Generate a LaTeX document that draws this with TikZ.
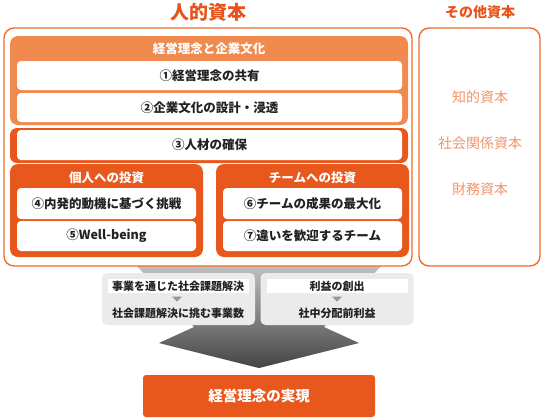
\documentclass[tikz,border=0pt]{standalone}
\usepackage{fontspec}
\setmainfont{Noto Sans CJK JP}
\definecolor{lorange}{HTML}{F08A4E}
\definecolor{dorange}{HTML}{E8571C}
\definecolor{frameor}{HTML}{EF6C28}
\definecolor{titleor}{HTML}{E8531A}
\definecolor{softor}{HTML}{F2946A}
\definecolor{gbox}{HTML}{EBEBEB}
\definecolor{txt}{HTML}{222222}
\definecolor{ftop}{HTML}{C4C4C4}
\definecolor{fbot}{HTML}{444444}
\begin{document}
\begin{tikzpicture}[x=1pt,y=-1pt,
  frame/.style={draw=frameor, line width=1.4pt, rounded corners=10pt, fill=white, inner sep=0pt},
  group/.style={rounded corners=8pt, inner sep=0pt},
  item/.style={fill=white, rounded corners=4pt, inner sep=0pt, font=\bfseries\fontsize{12.5}{14}\selectfont, text=txt},
  head/.style={font=\bfseries\fontsize{12.5}{14}\selectfont, text=white, inner sep=0pt},
  other/.style={font=\fontsize{14}{16}\selectfont, text=softor, inner sep=0pt},
  gbx/.style={fill=gbox, rounded corners=5pt, inner sep=0pt, minimum width=153pt, minimum height=52pt},
  band/.style={fill=white, inner sep=0pt, minimum height=14pt, font=\bfseries\fontsize{11}{12}\selectfont, text=txt},
  gtxt/.style={inner sep=0pt, font=\bfseries\fontsize{11}{12}\selectfont, text=txt},
  tri/.style={fill=black!40}
]
\fill[white] (0,0) rectangle (544,418);
\useasboundingbox (0,0) rectangle (544,418);

% funnel arrow
\shade[top color=ftop, bottom color=fbot]
  (133,262) -- (194,327) -- (159,343) -- (259,368) -- (359,343) -- (324,327) -- (385,262) -- cycle;

% titles
\node[inner sep=0pt, text=titleor, font=\bfseries\fontsize{19}{21}\selectfont] (t1) at (208,12) {人的資本};
\node[inner sep=0pt, text=titleor, font=\bfseries\fontsize{14}{16}\selectfont] (t2) at (480,12.5) {その他資本};

% frames
\node[frame, minimum width=408pt, minimum height=238pt] (human) at (208,147) {};
\node[frame, minimum width=121pt, minimum height=238pt] (others) at (479.5,147) {};

% box A
\node[group, fill=lorange, minimum width=398pt, minimum height=89pt] (boxA) at (209,80.5) {};
\node[head] (headA) at (209,49) {経営理念と企業文化};
\node[item, minimum width=385pt, minimum height=29pt] (i1) at (209.5,75.5) {①経営理念の共有};
\node[item, minimum width=385pt, minimum height=29pt] (i2) at (209.5,107.5) {②企業文化の設計・浸透};

% box 3
\node[group, rounded corners=7pt, fill=dorange, minimum width=398pt, minimum height=35pt] (box3) at (209,145.5) {};
\node[item, minimum width=385pt, minimum height=30pt] (i3) at (209.5,145) {③人材の確保};

% box P
\node[group, fill=dorange, minimum width=193pt, minimum height=93pt] (boxP) at (106.5,210.5) {};
\node[head] (headP) at (106.5,178) {個人への投資};
\node[item, minimum width=179pt, minimum height=31pt] (i4) at (106.5,203.5) {④内発的動機に基づく挑戦};
\node[item, minimum width=179pt, minimum height=30pt] (i5) at (106.5,236) {⑤Well-being};

% box T
\node[group, fill=dorange, minimum width=193pt, minimum height=93pt] (boxT) at (312.5,210.5) {};
\node[head] (headT) at (312.5,178) {チームへの投資};
\node[item, minimum width=179pt, minimum height=31pt] (i6) at (312.5,203.5) {⑥チームの成果の最大化};
\node[item, minimum width=179pt, minimum height=30pt] (i7) at (312.5,236) {⑦違いを歓迎するチーム};

% other capitals
\node[other] (o1) at (480,97) {知的資本};
\node[other] (o2) at (480,143) {社会関係資本};
\node[other] (o3) at (480,189) {財務資本};

% gray boxes
\node[gbx] (gL) at (178.5,299) {};
\node[gbx] (gR) at (337,299) {};
\node[band, minimum width=141pt] (bL) at (178,286) {事業を通じた社会課題解決};
\node[band, minimum width=141pt] (bR) at (337,286) {利益の創出};
\fill[tri] (172,296.5) -- (182,296.5) -- (177,301.5) -- cycle;
\fill[tri] (332,296.5) -- (342,296.5) -- (337,301.5) -- cycle;
\node[gtxt] (sL) at (178,313) {社会課題解決に挑む事業数};
\node[gtxt] (sR) at (337,313) {社中分配前利益};

% result
\node[fill=dorange, rounded corners=3pt, inner sep=0pt, minimum width=232pt, minimum height=42pt,
      text=white, font=\bfseries\fontsize{14.5}{16}\selectfont] (goal) at (259,396) {経営理念の実現};
\end{tikzpicture}
\end{document}
